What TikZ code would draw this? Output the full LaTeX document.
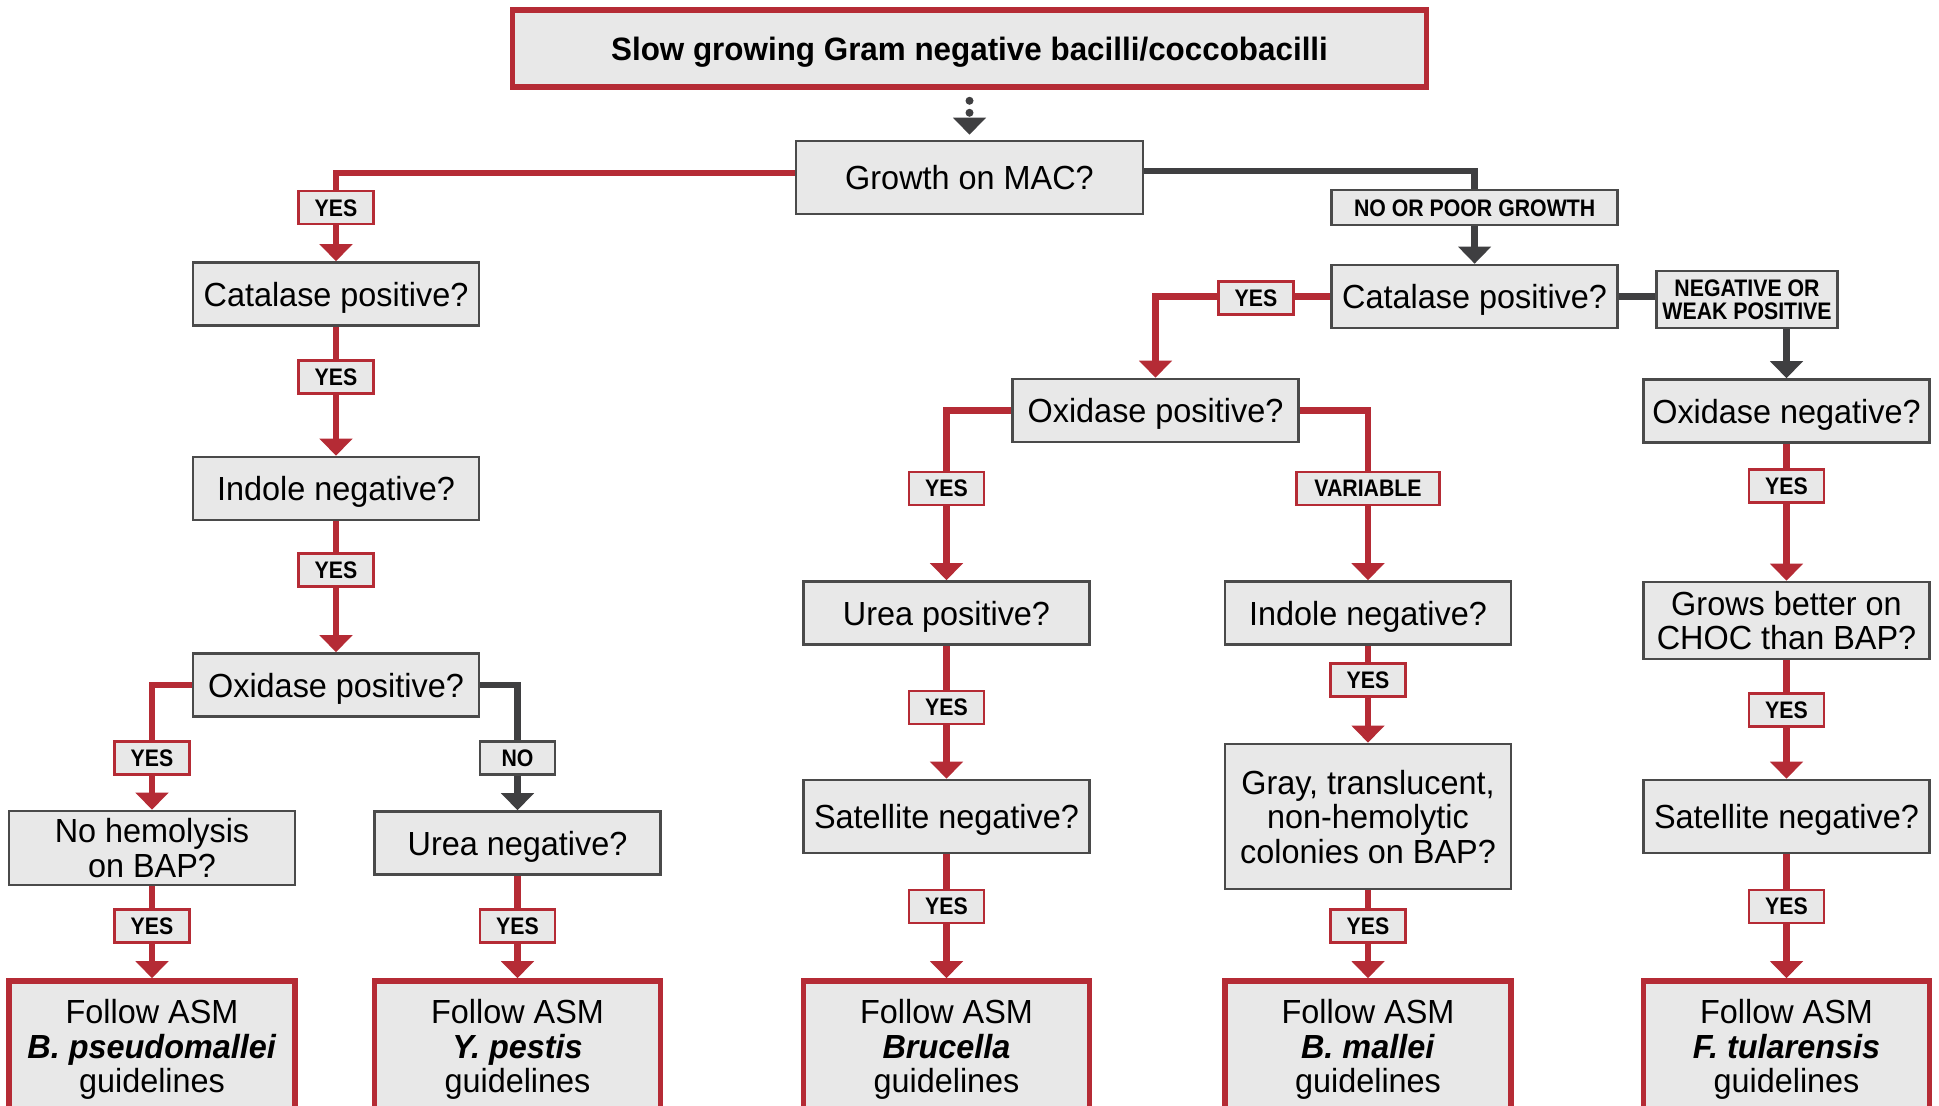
\documentclass[tikz,border=0pt]{standalone}
\usepackage{fontspec}
\setmainfont{Liberation Sans}[FakeStretch=0.97]
\newfontfamily\tagfont{Liberation Sans}[FakeStretch=0.89]
\usetikzlibrary{arrows.meta}
\definecolor{cdcred}{HTML}{B52B35}
\definecolor{cdcgray}{HTML}{3F3F41}
\definecolor{cdcfill}{HTML}{E8E8E8}
\definecolor{cdcline}{HTML}{4A4A4A}

\begin{document}
\begin{tikzpicture}[x=0.01cm, y=0.01cm]
\tikzstyle{every node}+=[align=center, text depth=0pt, font=\fontsize{9.5}{9.8}\selectfont]
\tikzstyle{question}=[draw=cdcline, fill=cdcfill, line width=0.025cm, minimum width=2.86cm, minimum height=0.63cm, inner sep=0pt]
\tikzstyle{result}=[draw=cdcred, fill=cdcfill, line width=0.055cm, minimum width=2.86cm, minimum height=1.30cm, inner sep=0pt]
\tikzstyle{yestag}=[draw=cdcred, fill=cdcfill, line width=0.025cm, minimum width=0.75cm, minimum height=0.33cm, inner sep=0pt, font=\tagfont\bfseries\fontsize{6.8}{6.6}\selectfont]
\tikzstyle{notag}=[yestag, draw=cdcline]
\tikzstyle{redarrow}=[draw=cdcred, line width=0.065cm, -{Triangle[width=0.32cm,length=0.17cm]}]
\tikzstyle{grayarrow}=[redarrow, draw=cdcgray]
\useasboundingbox (0,0) rectangle (1939,-1106);
\clip (0,0) rectangle (1939,-1106);
\node[result, minimum width=9.13cm, minimum height=0.77cm, font=\bfseries\fontsize{9.2}{9.8}\selectfont] (title) at (969.5,-48.5) {Slow growing Gram negative bacilli/coccobacilli};
\node[question, minimum width=3.47cm, minimum height=0.73cm] (mac) at (969.5,-177.5) {Growth on MAC?};
\node[question] (cat1) at (336,-294) {Catalase positive?};
\node[question] (ind1) at (336,-488.5) {Indole negative?};
\node[question] (ox1) at (336,-685) {Oxidase positive?};
\node[question, minimum height=0.74cm] (hem) at (152,-848) {No hemolysis\\on BAP?};
\node[question] (urea1) at (517.5,-843) {Urea negative?};
\node[result] (bpm) at (152,-1046) {Follow ASM\\\textbf{\textit{B. pseudomallei}}\\guidelines};
\node[result] (ype) at (517.5,-1046) {Follow ASM\\\textbf{\textit{Y. pestis}}\\guidelines};
\node[question] (cat2) at (1474.6,-296.5) {Catalase positive?};
\node[question] (ox2) at (1155.5,-410.5) {Oxidase positive?};
\node[question] (ox3) at (1786.5,-411) {Oxidase negative?};
\node[question] (urea2) at (946.5,-613) {Urea positive?};
\node[question] (ind2) at (1368,-613) {Indole negative?};
\node[question, minimum height=0.77cm] (choc) at (1786.5,-620.5) {Grows better on\\CHOC than BAP?};
\node[question, minimum height=0.73cm] (sat2) at (946.5,-816.5) {Satellite negative?};
\node[question, minimum height=1.45cm] (colony) at (1368,-816.5) {Gray, translucent,\\non-hemolytic\\colonies on BAP?};
\node[question, minimum height=0.73cm] (sat3) at (1786.5,-816.5) {Satellite negative?};
\node[result] (bru) at (946.5,-1046) {Follow ASM\\\textbf{\textit{Brucella}}\\guidelines};
\node[result] (bma) at (1368,-1046) {Follow ASM\\\textbf{\textit{B. mallei}}\\guidelines};
\node[result] (ftu) at (1786.5,-1046) {Follow ASM\\\textbf{\textit{F. tularensis}}\\guidelines};
\draw[cdcgray, line width=0.08cm, line cap=round, dash pattern=on 0pt off 0.12cm, shorten <=0.11cm, shorten >=0.05cm, -{Triangle[width=0.32cm,length=0.17cm]}] (title.south) -- (mac.north);
\draw[redarrow] ([yshift=0.045cm]mac.west) -| (cat1.north);
\draw[grayarrow] ([yshift=0.065cm]mac.east) -| (cat2.north);
\draw[redarrow] (cat1.south) -- (ind1.north);
\draw[redarrow] (ind1.south) -- (ox1.north);
\draw[redarrow] (ox1.west) -| (hem.north);
\draw[grayarrow] (ox1.east) -| (urea1.north);
\draw[redarrow] (hem.south) -- (bpm.north);
\draw[redarrow] (urea1.south) -- (ype.north);
\draw[redarrow] (cat2.west) -| (ox2.north);
\draw[grayarrow] (cat2.east) -| (ox3.north);
\draw[redarrow] (ox2.west) -| (urea2.north);
\draw[redarrow] (ox2.east) -| (ind2.north);
\draw[redarrow] (urea2.south) -- (sat2.north);
\draw[redarrow] (sat2.south) -- (bru.north);
\draw[redarrow] (ind2.south) -- (colony.north);
\draw[redarrow] (colony.south) -- (bma.north);
\draw[redarrow] (ox3.south) -- (choc.north);
\draw[redarrow] (choc.south) -- (sat3.north);
\draw[redarrow] (sat3.south) -- (ftu.north);
\node[yestag] (y1) at (336,-207.7) {YES};
\node[notag, minimum width=2.86cm, minimum height=0.35cm] (poor) at (1474.6,-207.7) {NO OR POOR GROWTH};
\node[yestag] (y2) at (336,-377.2) {YES};
\node[yestag] (y3) at (336,-570) {YES};
\node[yestag] (y4) at (152,-758) {YES};
\node[notag] (n1) at (517.5,-758) {NO};
\node[yestag] (y5) at (152,-926.2) {YES};
\node[yestag] (y6) at (517.5,-926.2) {YES};
\node[yestag] (y7) at (1256,-298) {YES};
\node[notag, minimum width=1.81cm, minimum height=0.57cm] (weak) at (1747,-299.5) {NEGATIVE OR\\WEAK POSITIVE};
\node[yestag] (y8) at (946.5,-488.5) {YES};
\node[yestag, minimum width=1.43cm] (var) at (1368,-488.5) {VARIABLE};
\node[yestag] (y9) at (946.5,-707.3) {YES};
\node[yestag] (y10) at (946.5,-906.4) {YES};
\node[yestag] (y11) at (1368,-680.1) {YES};
\node[yestag] (y12) at (1368,-926.2) {YES};
\node[yestag] (y13) at (1786.5,-486) {YES};
\node[yestag] (y14) at (1786.5,-709.8) {YES};
\node[yestag] (y15) at (1786.5,-906.4) {YES};
\end{tikzpicture}
\end{document}
